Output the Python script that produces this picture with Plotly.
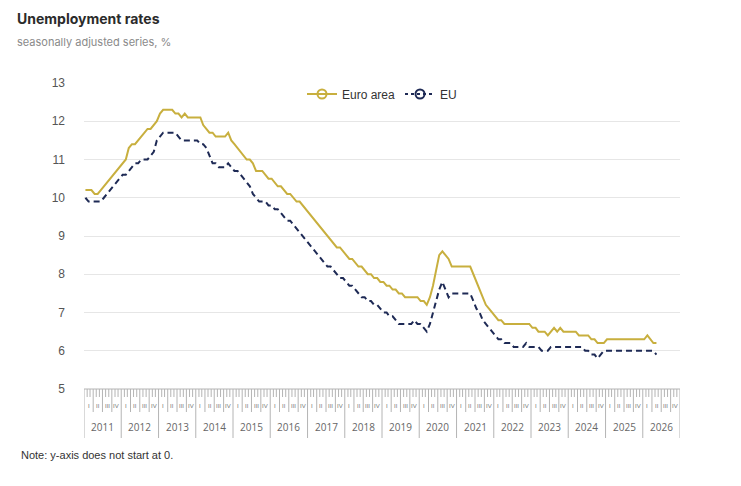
import pandas as pd
import plotly.graph_objects as go

# ---- data (monthly, Jan 2011 onward) ----
euro_area = [
    10.2, 10.2, 10.2, 10.1, 10.1, 10.2, 10.3, 10.4, 10.5, 10.6, 10.7, 10.8,  # 2011
    10.9, 11.0, 11.3, 11.4, 11.4, 11.5, 11.6, 11.7, 11.8, 11.8, 11.9, 12.0,  # 2012
    12.2, 12.3, 12.3, 12.3, 12.3, 12.2, 12.2, 12.1, 12.2, 12.1, 12.1, 12.1,  # 2013
    12.1, 12.1, 11.9, 11.8, 11.7, 11.7, 11.6, 11.6, 11.6, 11.6, 11.7, 11.5,  # 2014
    11.4, 11.3, 11.2, 11.1, 11.0, 11.0, 10.9, 10.7, 10.7, 10.7, 10.6, 10.5,  # 2015
    10.5, 10.4, 10.3, 10.3, 10.2, 10.1, 10.1, 10.0, 9.9, 9.9, 9.8, 9.7,      # 2016
    9.6, 9.5, 9.4, 9.3, 9.2, 9.1, 9.0, 8.9, 8.8, 8.7, 8.7, 8.6,              # 2017
    8.5, 8.4, 8.4, 8.3, 8.2, 8.2, 8.1, 8.0, 8.0, 7.9, 7.9, 7.8,              # 2018
    7.8, 7.7, 7.7, 7.6, 7.6, 7.5, 7.5, 7.4, 7.4, 7.4, 7.4, 7.4,              # 2019
    7.3, 7.3, 7.2, 7.4, 7.7, 8.1, 8.5, 8.6, 8.5, 8.4, 8.2, 8.2,              # 2020
    8.2, 8.2, 8.2, 8.2, 8.2, 8.0, 7.8, 7.6, 7.4, 7.2, 7.1, 7.0,              # 2021
    6.9, 6.8, 6.8, 6.7, 6.7, 6.7, 6.7, 6.7, 6.7, 6.7, 6.7, 6.7,              # 2022
    6.6, 6.6, 6.5, 6.5, 6.5, 6.4, 6.5, 6.6, 6.5, 6.6, 6.5, 6.5,              # 2023
    6.5, 6.5, 6.5, 6.4, 6.4, 6.4, 6.4, 6.3, 6.3, 6.2, 6.2, 6.2,              # 2024
    6.3, 6.3, 6.3, 6.3, 6.3, 6.3, 6.3, 6.3, 6.3, 6.3, 6.3, 6.3,              # 2025
    6.3, 6.4, 6.3, 6.2, 6.2,                                                 # 2026
]
eu = [
    10.0, 9.9, 9.9, 9.9, 9.9, 9.9, 10.0, 10.1, 10.2, 10.3, 10.4, 10.5,       # 2011
    10.6, 10.6, 10.7, 10.8, 10.9, 10.9, 11.0, 11.0, 11.0, 11.1, 11.2, 11.5,  # 2012
    11.6, 11.7, 11.7, 11.7, 11.7, 11.7, 11.6, 11.5, 11.5, 11.5, 11.5, 11.5,  # 2013
    11.5, 11.4, 11.4, 11.3, 11.1, 10.9, 10.9, 10.8, 10.8, 10.8, 10.9, 10.8,  # 2014
    10.7, 10.7, 10.6, 10.5, 10.4, 10.3, 10.1, 10.0, 9.9, 9.9, 9.9, 9.8,      # 2015
    9.8, 9.7, 9.7, 9.6, 9.5, 9.4, 9.4, 9.3, 9.2, 9.1, 9.0, 8.9,              # 2016
    8.8, 8.7, 8.6, 8.5, 8.4, 8.3, 8.2, 8.2, 8.1, 8.0, 7.9, 7.9,              # 2017
    7.8, 7.7, 7.7, 7.6, 7.5, 7.4, 7.4, 7.3, 7.3, 7.2, 7.2, 7.1,              # 2018
    7.0, 7.0, 6.9, 6.9, 6.8, 6.7, 6.7, 6.7, 6.7, 6.7, 6.8, 6.7,              # 2019
    6.7, 6.6, 6.5, 6.7, 7.0, 7.3, 7.6, 7.8, 7.6, 7.4, 7.5, 7.5,              # 2020
    7.5, 7.5, 7.5, 7.5, 7.5, 7.3, 7.1, 7.0, 6.8, 6.7, 6.6, 6.5,              # 2021
    6.4, 6.3, 6.3, 6.2, 6.2, 6.2, 6.1, 6.1, 6.1, 6.1, 6.2, 6.1,              # 2022
    6.1, 6.1, 6.1, 6.0, 6.0, 6.0, 6.1, 6.1, 6.1, 6.1, 6.1, 6.1,              # 2023
    6.1, 6.1, 6.1, 6.1, 6.1, 6.0, 6.0, 5.9, 5.9, 5.8, 5.9, 6.0,              # 2024
    6.0, 6.0, 6.0, 6.0, 6.0, 6.0, 6.0, 6.0, 6.0, 6.0, 6.0, 6.0,              # 2025
    6.0, 6.0, 6.0, 6.0, 5.9,                                                 # 2026
]
years = list(range(2011, 2027))
quarter_labels = ["I", "II", "III", "IV"]
y_ticks = [5, 6, 7, 8, 9, 10, 11, 12, 13]

dates = pd.date_range("2011-01-01", periods=len(euro_area), freq="MS") + pd.Timedelta(days=14)

GOLD = "#C8AF3E"
NAVY = "#1E2A55"
W, H = 741, 486
ML, MR, MT, MB = 84, 61, 83, 97
PH = H - MT - MB


def py(px):
    """pixel row -> paper y"""
    return (H - MB - px) / PH


fig = go.Figure()
fig.add_trace(go.Scatter(x=dates, y=euro_area, mode="lines", line=dict(color=GOLD, width=2),
                         showlegend=False, hoverinfo="skip"))
fig.add_trace(go.Scatter(x=dates, y=eu, mode="lines", line=dict(color=NAVY, width=2, dash="6px,4px"),
                         showlegend=False, hoverinfo="skip"))
# legend entries
fig.add_trace(go.Scatter(x=[None], y=[None], mode="lines+markers", name="Euro area",
                         line=dict(color=GOLD, width=2),
                         marker=dict(symbol="circle-open", size=9, color=GOLD, line=dict(width=2))))
fig.add_trace(go.Scatter(x=[None], y=[None], mode="lines+markers", name="EU",
                         line=dict(color=NAVY, width=2, dash="dot"),
                         marker=dict(symbol="circle-open", size=9, color=NAVY, line=dict(width=2))))

shapes = []
annotations = []
RULER = "#b4b4b4"
# top line of ruler
shapes.append(dict(type="line", xref="x", yref="paper",
                   x0=f"{years[0]}-01-01", x1=f"{years[-1] + 1}-01-01", y0=0, y1=0,
                   line=dict(color=RULER, width=1)))
for yr in years:
    for m in range(1, 13):
        d = f"{yr}-{m:02d}-01"
        if m == 1:
            y1 = py(438)
        elif (m - 1) % 3 == 0:
            y1 = py(412)
        else:
            y1 = py(397)
        shapes.append(dict(type="line", xref="x", yref="paper", x0=d, x1=d, y0=0, y1=y1,
                           line=dict(color=RULER, width=1)))
    for q, lab in enumerate(quarter_labels):
        mid = pd.Timestamp(f"{yr}-{3 * q + 1:02d}-01") + pd.Timedelta(days=45)
        annotations.append(dict(x=mid, y=py(406), xref="x", yref="paper", text=lab, showarrow=False,
                                font=dict(size=6, color="#777", family="Liberation Sans, Arial"),
                                xanchor="center", yanchor="middle"))
    annotations.append(dict(x=pd.Timestamp(f"{yr}-07-02"), y=py(427), xref="x", yref="paper",
                            text=str(yr), showarrow=False,
                            font=dict(size=10, color="#666", family="Open Sans, Arial"),
                            xanchor="center", yanchor="middle"))
last = f"{years[-1] + 1}-01-01"
shapes.append(dict(type="line", xref="x", yref="paper", x0=last, x1=last, y0=0, y1=py(438),
                   line=dict(color=RULER, width=1)))

# texts
annotations.append(dict(xref="paper", yref="paper", x=(15 - ML) / (W - ML - MR), y=py(18),
                        text="<b>Unemployment rates</b>", showarrow=False, xanchor="left", yanchor="middle",
                        font=dict(size=14, color="#2b2b2b", family="Inter, Liberation Sans, Arial")))
annotations.append(dict(xref="paper", yref="paper", x=(15 - ML) / (W - ML - MR), y=py(42),
                        text="seasonally adjusted series, %", showarrow=False, xanchor="left", yanchor="middle",
                        font=dict(size=11, color="#8a8a8a", family="Inter, Liberation Sans, Arial")))
annotations.append(dict(xref="paper", yref="paper", x=(19 - ML) / (W - ML - MR), y=py(455),
                        text="Note: y-axis does not start at 0.", showarrow=False, xanchor="left",
                        yanchor="middle",
                        font=dict(size=11, color="#333", family="Liberation Sans, Arial")))

fig.update_layout(
    width=W, height=H,
    margin=dict(l=ML, r=MR, t=MT, b=MB),
    paper_bgcolor="white", plot_bgcolor="white",
    shapes=shapes, annotations=annotations,
    legend=dict(orientation="h", x=0.5, xanchor="center", y=py(94), yanchor="middle",
                font=dict(size=12, color="#333", family="Liberation Sans, Arial"),
                bgcolor="rgba(0,0,0,0)", itemwidth=30),
    xaxis=dict(type="date", range=[f"{years[0]}-01-01", last], showgrid=False, showticklabels=False,
               zeroline=False, showline=False, ticks=""),
    yaxis=dict(range=[5, 13], tickvals=y_ticks, showgrid=True, gridcolor="#e6e6e6", gridwidth=1,
               zeroline=False, showline=False, ticks="", ticklabelstandoff=18,
               tickfont=dict(size=12, color="#555", family="Liberation Sans, Arial")),
)

fig.write_html("out.html")
